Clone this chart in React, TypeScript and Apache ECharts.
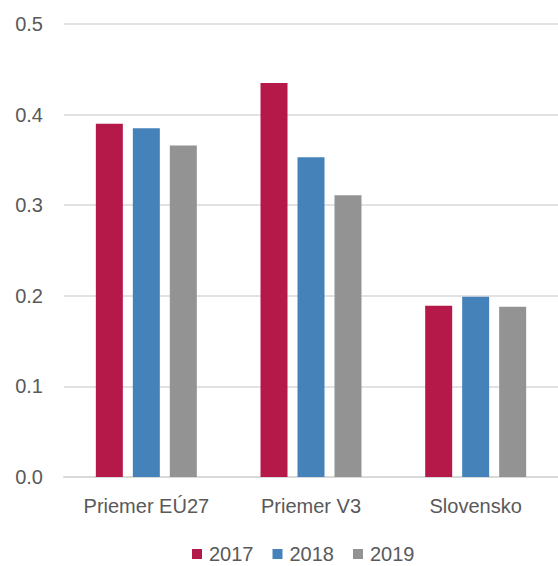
import React, { useEffect, useRef } from "react";
import * as echarts from "echarts";

const categories = ["Priemer EÚ27", "Priemer V3", "Slovensko"];
const years = ["2017", "2018", "2019"];
const values2017 = [0.39, 0.435, 0.189];
const values2018 = [0.385, 0.353, 0.199];
const values2019 = [0.366, 0.311, 0.188];
const colors = ["#B5194A", "#4682BA", "#939393"];

const FONT = "'Liberation Sans', Arial, sans-serif";

export default function App() {
  const ref = useRef<HTMLDivElement>(null);
  useEffect(() => {
    const chart = echarts.init(ref.current!, undefined, { renderer: "svg" });
    const series = [values2017, values2018, values2019].map((d, i) => ({
      name: years[i],
      type: "bar",
      data: d,
      barWidth: 27,
      barGap: "37%",
      itemStyle: { color: colors[i] },
    }));
    chart.setOption({
      animation: false,
      textStyle: { fontFamily: FONT },
      grid: { left: 64, top: 24, width: 498, height: 453 },
      legend: {
        data: years,
        left: 187,
        top: 539,
        itemWidth: 10,
        itemHeight: 10,
        itemGap: 19,
        icon: "rect",
        textStyle: { fontFamily: FONT, fontSize: 20, color: "#595959", padding: [0, 0, 0, 2] },
      },
      xAxis: {
        type: "category",
        data: categories,
        axisLine: { lineStyle: { color: "#D9D9D9", width: 2 } },
        axisTick: { show: false },
        axisLabel: { fontFamily: FONT, fontSize: 20, color: "#595959", margin: 19, interval: 0 },
      },
      yAxis: {
        type: "value",
        min: 0,
        max: 0.5,
        interval: 0.1,
        axisLine: { show: false },
        axisTick: { show: false },
        splitLine: { lineStyle: { color: "#D9D9D9", width: 1.5 } },
        axisLabel: {
          fontFamily: FONT,
          fontSize: 20,
          color: "#595959",
          margin: 21,
          formatter: (v: number) => v.toFixed(1),
        },
      },
      series,
    });
    return () => chart.dispose();
  }, []);
  return (
    <div
      ref={ref}
      style={{ position: "fixed", left: 0, top: 0, width: 558, height: 566, background: "#fff" }}
    />
  );
}
